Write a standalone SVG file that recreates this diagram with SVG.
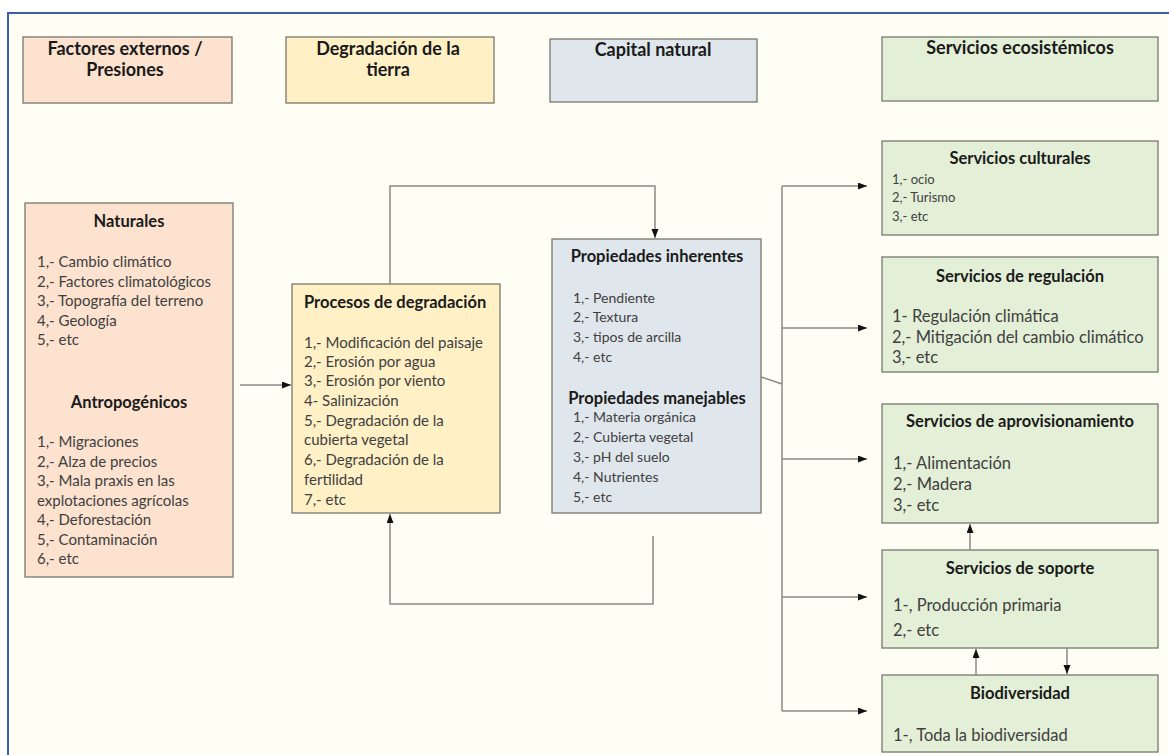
<svg xmlns="http://www.w3.org/2000/svg" width="1169" height="755" viewBox="0 0 1169 755">
<style>
.box{stroke:#77776f;stroke-width:1.3}
.peach{fill:#fce2cf}
.yellow{fill:#fff0c6}
.blue{fill:#dfe6ec}
.green{fill:#e3efd6}
.h{font-family:Lato,"Liberation Sans",sans-serif;font-weight:bold;font-size:18px;fill:#1a1a1a;text-anchor:middle}
.t{font-family:Lato,"Liberation Sans",sans-serif;font-weight:bold;font-size:16.5px;fill:#1a1a1a}
.tc{text-anchor:middle}
.b{font-family:Lato,"Liberation Sans",sans-serif;font-size:15px;fill:#404040}
.bp{font-size:14px}
.bs{font-size:13px}
.bl{font-size:16.5px}
.c{fill:none;stroke:#8a8a84;stroke-width:1.5}
</style>
<defs>
<marker id="ah" markerUnits="userSpaceOnUse" markerWidth="10" markerHeight="8" refX="9" refY="3.5" orient="auto">
<path d="M0,0 L9,3.5 L0,7 z" fill="#111"/>
</marker>
</defs>
<rect x="0" y="0" width="1169" height="755" fill="#ffffff"/>
<rect x="8" y="13" width="1180" height="760" fill="#fffef5" stroke="#3a5ea8" stroke-width="2"/>

<g id="h-factores">
<rect class="box peach" x="23" y="37" width="209" height="66"/>
<text class="h" x="125" y="55">Factores externos /</text>
<text class="h" x="125" y="76">Presiones</text>
</g>
<g id="h-degradacion">
<rect class="box yellow" x="286" y="37" width="208" height="66"/>
<text class="h" x="388" y="55">Degradación de la</text>
<text class="h" x="388" y="76">tierra</text>
</g>
<g id="h-capital">
<rect class="box blue" x="550" y="39" width="207" height="63"/>
<text class="h" x="653" y="56">Capital natural</text>
</g>
<g id="h-servicios">
<rect class="box green" x="882" y="37" width="276" height="64"/>
<text class="h" x="1020" y="54">Servicios ecosistémicos</text>
</g>

<g id="naturales">
<rect class="box peach" x="25" y="203" width="208" height="374"/>
<text class="t tc" x="129" y="227">Naturales</text>
<text class="b" x="37" y="267">1,- Cambio climático</text>
<text class="b" x="37" y="287">2,- Factores climatológicos</text>
<text class="b" x="37" y="306">3,- Topografía del terreno</text>
<text class="b" x="37" y="326">4,- Geología</text>
<text class="b" x="37" y="345">5,- etc</text>
<text class="t tc" x="129" y="408">Antropogénicos</text>
<text class="b" x="37" y="447">1,- Migraciones</text>
<text class="b" x="37" y="467">2,- Alza de precios</text>
<text class="b" x="37" y="486">3,- Mala praxis en las</text>
<text class="b" x="37" y="506">explotaciones agrícolas</text>
<text class="b" x="37" y="525">4,- Deforestación</text>
<text class="b" x="37" y="545">5,- Contaminación</text>
<text class="b" x="37" y="564">6,- etc</text>
</g>

<g id="procesos">
<rect class="box yellow" x="292" y="284" width="208" height="229"/>
<text class="t" x="304" y="308">Procesos de degradación</text>
<text class="b" x="304" y="348">1,- Modificación del paisaje</text>
<text class="b" x="304" y="367">2,- Erosión por agua</text>
<text class="b" x="304" y="386">3,- Erosión por viento</text>
<text class="b" x="304" y="406">4- Salinización</text>
<text class="b" x="304" y="426">5,- Degradación de la</text>
<text class="b" x="304" y="445">cubierta vegetal</text>
<text class="b" x="304" y="465">6,- Degradación de la</text>
<text class="b" x="304" y="485">fertilidad</text>
<text class="b" x="304" y="505">7,- etc</text>
</g>

<g id="propiedades">
<rect class="box blue" x="552" y="239" width="209" height="274"/>
<text class="t tc" x="657" y="262">Propiedades inherentes</text>
<text class="b bp" x="573" y="303">1,- Pendiente</text>
<text class="b bp" x="573" y="322">2,- Textura</text>
<text class="b bp" x="573" y="342">3,- tipos de arcilla</text>
<text class="b bp" x="573" y="362">4,- etc</text>
<text class="t tc" x="657" y="404">Propiedades manejables</text>
<text class="b bp" x="573" y="422">1,- Materia orgánica</text>
<text class="b bp" x="573" y="442">2,- Cubierta vegetal</text>
<text class="b bp" x="573" y="462">3,- pH del suelo</text>
<text class="b bp" x="573" y="482">4,- Nutrientes</text>
<text class="b bp" x="573" y="502">5,- etc</text>
</g>

<g id="culturales">
<rect class="box green" x="882" y="141" width="276" height="94"/>
<text class="t tc" x="1020" y="164">Servicios culturales</text>
<text class="b bs" x="892" y="184">1,- ocio</text>
<text class="b bs" x="892" y="202">2,- Turismo</text>
<text class="b bs" x="892" y="221">3,- etc</text>
</g>

<g id="regulacion">
<rect class="box green" x="882" y="257" width="276" height="115"/>
<text class="t tc" x="1020" y="282">Servicios de regulación</text>
<text class="b bl" x="892" y="322">1- Regulación climática</text>
<text class="b bl" x="892" y="343">2,- Mitigación del cambio climático</text>
<text class="b bl" x="892" y="363">3,- etc</text>
</g>

<g id="aprovisionamiento">
<rect class="box green" x="882" y="404" width="276" height="119"/>
<text class="t tc" x="1020" y="427">Servicios de aprovisionamiento</text>
<text class="b bl" x="893" y="469">1,- Alimentación</text>
<text class="b bl" x="893" y="490">2,- Madera</text>
<text class="b bl" x="893" y="511">3,- etc</text>
</g>

<g id="soporte">
<rect class="box green" x="882" y="550" width="276" height="98"/>
<text class="t tc" x="1020" y="574">Servicios de soporte</text>
<text class="b bl" x="893" y="611">1-, Producción primaria</text>
<text class="b bl" x="893" y="636">2,- etc</text>
</g>

<g id="biodiversidad">
<rect class="box green" x="882" y="675" width="276" height="77"/>
<text class="t tc" x="1020" y="699">Biodiversidad</text>
<text class="b bl" x="893" y="741">1-, Toda la biodiversidad</text>
</g>

<g id="connectors">
<path class="c" d="M240,385 H291" marker-end="url(#ah)"/>
<path class="c" d="M390,284 V186 H655 V238" marker-end="url(#ah)"/>
<path class="c" d="M653,536 V604 H390 V514" marker-end="url(#ah)"/>
<path class="c" d="M761,377 L782,384"/>
<path class="c" d="M782,186 V711"/>
<path class="c" d="M782,186 H867" marker-end="url(#ah)"/>
<path class="c" d="M782,328 H867" marker-end="url(#ah)"/>
<path class="c" d="M782,459 H867" marker-end="url(#ah)"/>
<path class="c" d="M782,597 H867" marker-end="url(#ah)"/>
<path class="c" d="M782,711 H867" marker-end="url(#ah)"/>
<path class="c" d="M970,550 V524" marker-end="url(#ah)"/>
<path class="c" d="M976,675 V649" marker-end="url(#ah)"/>
<path class="c" d="M1067,648 V674" marker-end="url(#ah)"/>
</g>
</svg>
